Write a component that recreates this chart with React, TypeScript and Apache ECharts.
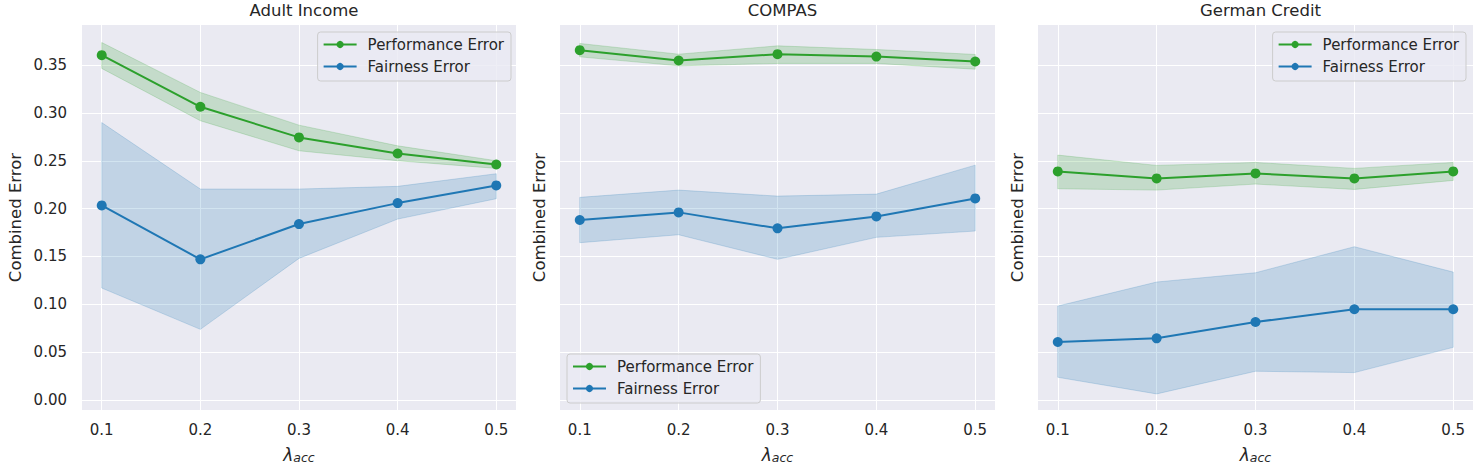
import React, { useEffect, useRef } from "react";
import * as echarts from "echarts";

const lambdas = [0.1, 0.2, 0.3, 0.4, 0.5];
const yTicks = [0, 0.05, 0.1, 0.15, 0.2, 0.25, 0.3, 0.35];
const panelTitles = ["Adult Income", "COMPAS", "German Credit"];
const seriesNames = ["Performance Error", "Fairness Error"];

// Adult Income
const adultPerf = [0.3605, 0.3065, 0.2745, 0.2577, 0.2462];
const adultPerfLo = [0.3466, 0.2919, 0.2605, 0.2501, 0.2421];
const adultPerfHi = [0.3737, 0.3215, 0.2873, 0.2657, 0.2501];
const adultFair = [0.2034, 0.147, 0.1839, 0.2058, 0.2243];
const adultFairLo = [0.117, 0.0738, 0.148, 0.1891, 0.2104];
const adultFairHi = [0.29, 0.2205, 0.2205, 0.2233, 0.2365];

// COMPAS
const compasPerf = [0.3657, 0.3549, 0.3615, 0.359, 0.3538];
const compasPerfLo = [0.3587, 0.3493, 0.3518, 0.3518, 0.3458];
const compasPerfHi = [0.3727, 0.3615, 0.3702, 0.3664, 0.3612];
const compasFair = [0.1881, 0.1961, 0.1794, 0.1919, 0.2107];
const compasFairLo = [0.1644, 0.1727, 0.147, 0.17, 0.1766];
const compasFairHi = [0.2118, 0.2194, 0.2131, 0.2152, 0.2455];

// German Credit
const germanPerf = [0.2389, 0.2316, 0.2368, 0.2316, 0.2389];
const germanPerfLo = [0.2208, 0.2194, 0.2257, 0.2201, 0.2295];
const germanPerfHi = [0.256, 0.2452, 0.2483, 0.2421, 0.2483];
const germanFair = [0.0606, 0.0644, 0.0815, 0.0948, 0.0948];
const germanFairLo = [0.0237, 0.0063, 0.03, 0.0286, 0.055];
const germanFairHi = [0.0982, 0.1233, 0.133, 0.1602, 0.1337];

const panels = [
  { perf: adultPerf, perfLo: adultPerfLo, perfHi: adultPerfHi, fair: adultFair, fairLo: adultFairLo, fairHi: adultFairHi },
  { perf: compasPerf, perfLo: compasPerfLo, perfHi: compasPerfHi, fair: compasFair, fairLo: compasFairLo, fairHi: compasFairHi },
  { perf: germanPerf, perfLo: germanPerfLo, perfHi: germanPerfHi, fair: germanFair, fairLo: germanFairLo, fairHi: germanFairHi },
];

const GREEN = "#2ca02c";
const BLUE = "#1f77b4";
const GREEN_A = "rgba(44,160,44,0.2)";
const BLUE_A = "rgba(31,119,180,0.2)";
const TEXT = "#262626";
const FONT = "DejaVu Sans";

const gridLefts = [82, 560, 1038];
const gridWidths = [434, 435, 435];
const GRID_TOP = 25;
const GRID_H = 385;

function bandSeries(idx: number, lo: number[], hi: number[], fill: string) {
  return {
    type: "custom",
    xAxisIndex: idx,
    yAxisIndex: idx,
    silent: true,
    z: 1,
    data: lambdas.map((x, i) => [x, lo[i], hi[i]]),
    encode: { x: 0, y: [1, 2] },
    renderItem: (params: any, api: any) => {
      if (params.dataIndex !== 0) return null;
      const top = lambdas.map((x, i) => api.coord([x, hi[i]]));
      const bot = lambdas.map((x, i) => api.coord([x, lo[i]])).reverse();
      return {
        type: "polygon",
        shape: { points: top.concat(bot) },
        style: { fill, stroke: fill, lineWidth: 1 },
      };
    },
  };
}

function lineSeries(idx: number, name: string, vals: number[], color: string) {
  return {
    type: "line",
    name,
    xAxisIndex: idx,
    yAxisIndex: idx,
    z: 3,
    data: lambdas.map((x, i) => [x, vals[i]]),
    symbol: "circle",
    symbolSize: 10,
    showSymbol: true,
    lineStyle: { color, width: 2 },
    itemStyle: { color },
  };
}

export default function App() {
  const ref = useRef<HTMLDivElement>(null);
  useEffect(() => {
    const chart = echarts.init(ref.current!, null, { renderer: "svg" });
    const grids = gridLefts.map((left, i) => ({
      left,
      top: GRID_TOP,
      width: gridWidths[i],
      height: GRID_H,
      show: true,
      backgroundColor: "#EAEAF2",
      borderWidth: 0,
      containLabel: false,
      outerBoundsMode: "none",
    }));
    const xAxes = gridLefts.map((_, i) => ({
      type: "value",
      gridIndex: i,
      min: 0.08,
      max: 0.52,
      axisLine: { show: false },
      axisTick: { show: false, customValues: lambdas },
      axisLabel: {
        customValues: lambdas,
        formatter: (v: number) => v.toFixed(1),
        color: TEXT,
        fontSize: 15,
        fontFamily: FONT,
        margin: 12,
      },
      splitLine: { show: true, customValues: lambdas, lineStyle: { color: "#ffffff", width: 1 } },
      name: "{a|λ}{b|acc}",
      nameLocation: "middle",
      nameGap: 36,
      nameTextStyle: {
        lineHeight: 17,
        rich: {
          a: { fontSize: 17, fontStyle: "italic", fontFamily: FONT, color: TEXT, lineHeight: 17 },
          b: { fontSize: 12.5, fontStyle: "italic", fontFamily: FONT, color: TEXT, lineHeight: 12, padding: [6, 0, 0, 0] },
        },
      },
    }));
    const yAxes = gridLefts.map((_, i) => ({
      type: "value",
      gridIndex: i,
      min: -0.0105,
      max: 0.392,
      axisLine: { show: false },
      axisTick: { show: false, customValues: yTicks },
      axisLabel: {
        show: i === 0,
        customValues: yTicks,
        formatter: (v: number) => v.toFixed(2),
        color: TEXT,
        fontSize: 15,
        fontFamily: FONT,
        margin: 15,
      },
      splitLine: { show: true, customValues: yTicks, lineStyle: { color: "#ffffff", width: 1 } },
      name: "Combined Error",
      nameLocation: "middle",
      nameGap: i === 0 ? 58 : 12,
      nameTextStyle: { color: TEXT, fontSize: 16.5, fontFamily: FONT },
    }));
    const series: any[] = [];
    panels.forEach((p, i) => {
      series.push(bandSeries(i, p.perfLo, p.perfHi, GREEN_A));
      series.push(bandSeries(i, p.fairLo, p.fairHi, BLUE_A));
    });
    panels.forEach((p, i) => {
      series.push(lineSeries(i, seriesNames[0], p.perf, GREEN));
      series.push(lineSeries(i, seriesNames[1], p.fair, BLUE));
    });
    const legendBase = {
      orient: "vertical",
      data: seriesNames,
      backgroundColor: "rgba(234,234,242,0.8)",
      borderColor: "#cccccc",
      borderWidth: 1,
      borderRadius: 3,
      padding: [5, 7, 7, 5],
      itemWidth: 33,
      itemHeight: 9,
      itemGap: 7,
      selectedMode: false,
      textStyle: { color: TEXT, fontSize: 15, fontFamily: FONT, lineHeight: 15, padding: [0, 0, 0, 6] },
    };
    const option: any = {
      animation: false,
      backgroundColor: "#ffffff",
      textStyle: { fontFamily: FONT },
      title: panelTitles.map((t, i) => ({
        text: t,
        left: gridLefts[i] + gridWidths[i] / 2,
        top: -3,
        textAlign: "center",
        textStyle: { color: TEXT, fontSize: 16.5, fontWeight: "normal", fontFamily: FONT },
      })),
      grid: grids,
      xAxis: xAxes,
      yAxis: yAxes,
      legend: [
        { ...legendBase, right: 973, top: 32 },
        { ...legendBase, left: 567, top: 354 },
        { ...legendBase, right: 18, top: 32 },
      ],
      series,
    };
    chart.setOption(option);
    return () => chart.dispose();
  }, []);
  return (
    <div
      ref={ref}
      style={{ position: "fixed", left: 0, top: 0, width: "1484px", height: "467px" }}
    />
  );
}
